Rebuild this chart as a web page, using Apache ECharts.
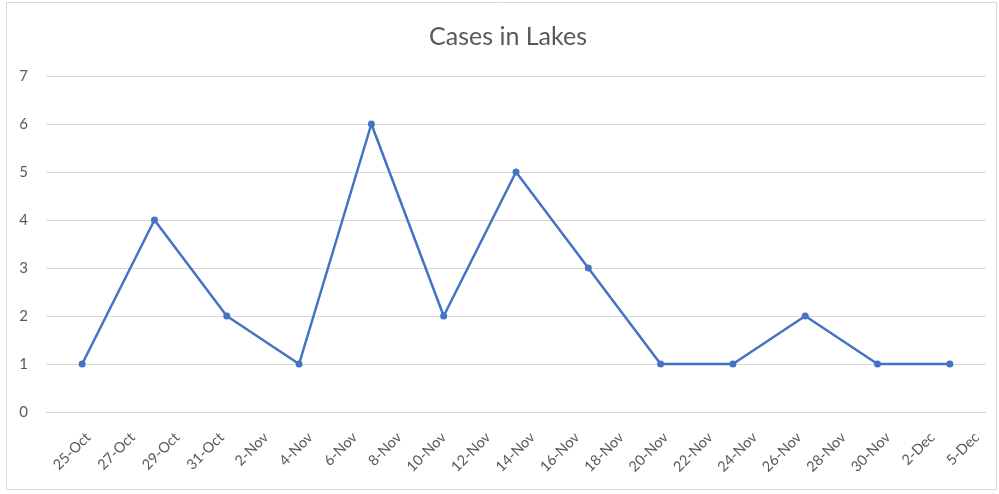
<!DOCTYPE html>
<html>
<head>
<meta charset="utf-8">
<script src="https://cdn.jsdelivr.net/npm/echarts@6/dist/echarts.min.js"></script>
<style>
  html, body { margin: 0; padding: 0; background: #fff; }
  #chart { width: 999px; height: 494px; }
</style>
</head>
<body>
<div id="chart"></div>
<script>
// axis labels shown under the plot (every other day)
var tickLabels = ['25-Oct', '27-Oct', '29-Oct', '31-Oct', '2-Nov', '4-Nov', '6-Nov', '8-Nov',
  '10-Nov', '12-Nov', '14-Nov', '16-Nov', '18-Nov', '20-Nov', '22-Nov', '24-Nov',
  '26-Nov', '28-Nov', '30-Nov', '2-Dec', '5-Dec'];
// dates of the plotted points
var pointDates = ['25-Oct', '29-Oct', '31-Oct', '4-Nov', '8-Nov', '10-Nov', '14-Nov',
  '18-Nov', '20-Nov', '24-Nov', '26-Nov', '30-Nov', '5-Dec'];
var cases = [1, 4, 2, 1, 6, 2, 5, 3, 1, 1, 2, 1, 1];

var yMin = 0, yMax = 7, yStep = 1;

var font = 'Lato';
var textColor = '#595959';
var gridColor = '#d9d9d9';
var lineColor = '#4472C4';

var myChart = echarts.init(document.getElementById('chart'));

var option = {
  animation: false,
  backgroundColor: '#fff',
  title: {
    text: 'Cases in Lakes',
    left: 424,
    top: 19,
    textStyle: { fontFamily: font, fontSize: 25, fontWeight: 'normal', color: textColor }
  },
  graphic: [{
    type: 'rect',
    shape: { x: 6.5, y: 2.5, width: 990, height: 487 },
    style: { fill: 'none', stroke: gridColor, lineWidth: 1 },
    silent: true
  }],
  grid: [
    { left: 46, top: 76, width: 940, height: 336 },
    // labels sit a bit to the right of their category, like Excel does
    { left: 66, top: 76, width: 940, height: 336 }
  ],
  xAxis: [
    {
      gridIndex: 0,
      type: 'category',
      data: pointDates,
      boundaryGap: true,
      axisLine: { lineStyle: { color: gridColor } },
      axisTick: { show: false },
      axisLabel: { show: false }
    },
    {
      gridIndex: 1,
      type: 'category',
      data: tickLabels,
      boundaryGap: true,
      axisLine: { show: false },
      axisTick: { show: false },
      splitLine: { show: false },
      axisLabel: {
        interval: 0,
        rotate: 45,
        margin: 23,
        color: textColor,
        fontFamily: font,
        fontSize: 14.5
      }
    }
  ],
  yAxis: [
    {
      gridIndex: 0,
      type: 'value',
      min: yMin,
      max: yMax,
      interval: yStep,
      axisLine: { show: false },
      axisTick: { show: false },
      splitLine: { lineStyle: { color: gridColor, width: 1 } },
      axisLabel: { margin: 18, color: textColor, fontFamily: font, fontSize: 15 }
    },
    { gridIndex: 1, type: 'value', min: yMin, max: yMax, show: false }
  ],
  series: [{
    name: 'Cases',
    type: 'line',
    xAxisIndex: 0,
    yAxisIndex: 0,
    data: cases,
    symbol: 'circle',
    symbolSize: 7,
    lineStyle: { color: lineColor, width: 2.5 },
    itemStyle: { color: lineColor }
  }]
};

myChart.setOption(option);
window.addEventListener('resize', function () {
  myChart.resize();
});
</script>
</body>
</html>
